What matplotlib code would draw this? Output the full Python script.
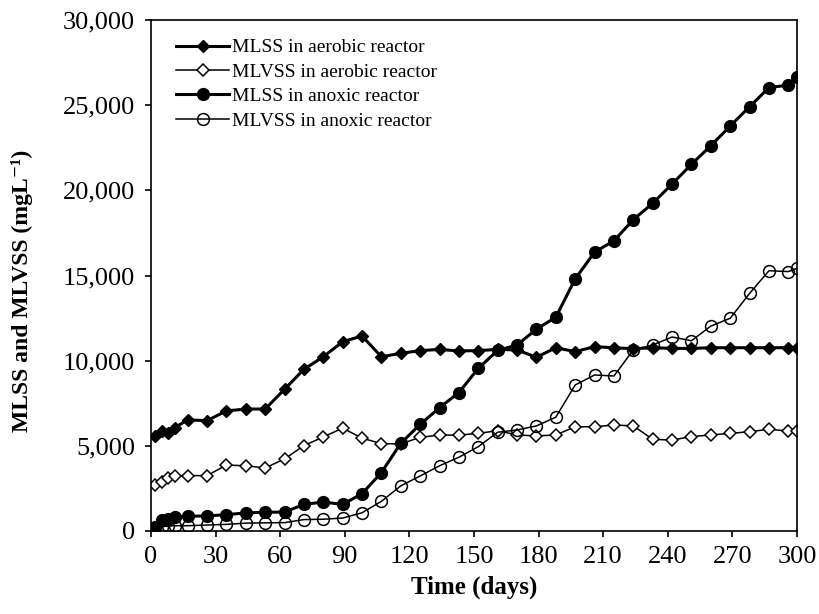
import numpy as np
import matplotlib
matplotlib.use('Agg')
import matplotlib.pyplot as plt
from matplotlib.ticker import FuncFormatter

# sampling days (same for all four series)
days = [2, 5, 8, 11, 17, 26, 35, 44, 53, 62, 71, 80, 89, 98, 107, 116, 125, 134, 143,
        152, 161, 170, 179, 188, 197, 206, 215, 224, 233, 242, 251, 260, 269, 278, 287,
        296, 300]

mlss_aerobic = [5580, 5870, 5740, 6070, 6520, 6480, 7050, 7160, 7160, 8320, 9490, 10230,
                11110, 11450, 10230, 10430, 10590, 10660, 10570, 10590, 10660, 10630, 10200,
                10760, 10530, 10820, 10760, 10700, 10760, 10720, 10720, 10760, 10760, 10760,
                10760, 10760, 10720]

mlvss_aerobic = [2700, 2890, 3090, 3250, 3250, 3250, 3870, 3830, 3700, 4230, 5010, 5520,
                 6040, 5450, 5130, 5110, 5500, 5630, 5630, 5730, 5890, 5640, 5580, 5640,
                 6120, 6120, 6220, 6170, 5380, 5340, 5540, 5640, 5730, 5830, 5970, 5870, 5870]

mlss_anoxic = [250, 650, 720, 820, 870, 880, 960, 1060, 1100, 1110, 1560, 1700, 1560, 2190,
               3430, 5150, 6260, 7240, 8130, 9550, 10600, 10920, 11850, 12550, 14800, 16370,
               17040, 18280, 19240, 20370, 21530, 22620, 23780, 24910, 26030, 26180, 26640]

mlvss_anoxic = [160, 250, 290, 310, 310, 350, 390, 460, 480, 490, 670, 690, 760, 1070, 1740,
                2650, 3230, 3830, 4330, 4950, 5800, 5930, 6170, 6680, 8570, 9160, 9100, 10630,
                10920, 11390, 11170, 12030, 12490, 13950, 15280, 15230, 15420]

labels = ['MLSS in aerobic reactor', 'MLVSS in aerobic reactor',
          'MLSS in anoxic reactor', 'MLVSS in anoxic reactor']


def main():
    plt.rcParams['font.family'] = ['Liberation Serif', 'DejaVu Serif']

    fig = plt.figure(figsize=(8.19, 6.14), dpi=100)
    ax = fig.add_axes([0.1844, 0.1352, 0.7887, 0.8322])

    ax.plot(days, mlss_aerobic, color='black', lw=2.2, marker='D', ms=6.5,
            mfc='black', mec='black', label=labels[0])
    ax.plot(days, mlvss_aerobic, color='black', lw=1.1, marker='D', ms=6.5,
            mfc='white', mec='black', mew=1.1, label=labels[1])
    ax.plot(days, mlss_anoxic, color='black', lw=2.2, marker='o', ms=8.5,
            mfc='black', mec='black', label=labels[2])
    ax.plot(days, mlvss_anoxic, color='black', lw=1.1, marker='o', ms=8.5,
            mfc='none', mec='black', mew=1.1, label=labels[3])

    ax.set_xlim(0, 300)
    ax.set_ylim(0, 30000)
    ax.set_xticks(range(0, 301, 30))
    ax.set_yticks(range(0, 30001, 5000))
    ax.yaxis.set_major_formatter(FuncFormatter(lambda v, p: '{:,.0f}'.format(v)))
    ax.tick_params(direction='out', length=4.5, width=1.2, labelsize=19)
    ax.tick_params(axis='y', pad=7)
    ax.tick_params(axis='x', pad=6)
    for s in ax.spines.values():
        s.set_linewidth(1.2)

    ax.set_xlabel('Time (days)', fontsize=18, fontweight='bold')
    ax.set_ylabel('MLSS and MLVSS (mgL\u207b\u00b9)', fontsize=17,
                  fontweight='bold')
    ax.xaxis.set_label_coords(0.5, -0.088)
    ax.yaxis.set_label_coords(-0.183, 0.47)

    ax.legend(loc='upper left', frameon=False, fontsize=14, handlelength=2.7,
              handletextpad=0.15, labelspacing=0.35, borderaxespad=0.3,
              bbox_to_anchor=(0.018, 0.99))

    fig.savefig('out.png', dpi=100)
    return


main()
